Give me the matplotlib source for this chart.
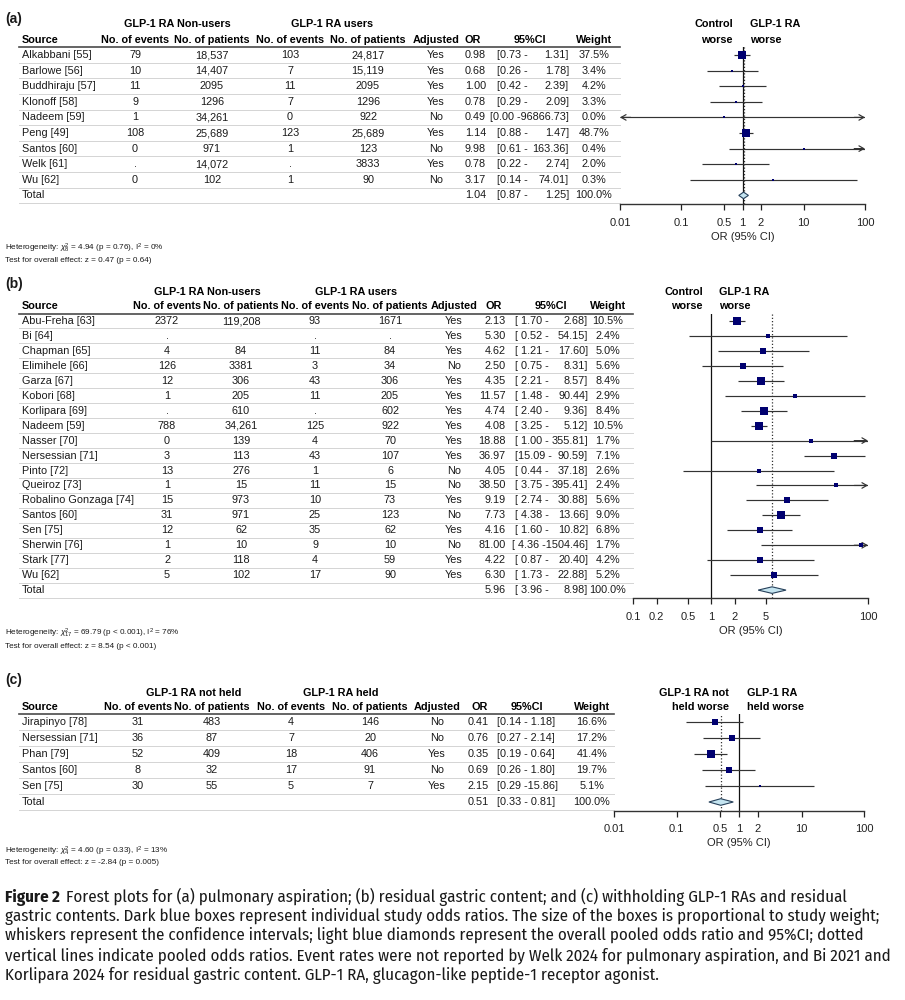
import matplotlib
matplotlib.use("Agg")
import os
import matplotlib.pyplot as plt
from matplotlib import font_manager
from matplotlib.font_manager import FontProperties
from matplotlib.patches import Polygon
import numpy as np

# ---------------- (a) pulmonary aspiration
a_source = ["Alkabbani [55]", "Barlowe [56]", "Buddhiraju [57]", "Klonoff [58]", "Nadeem [59]",
            "Peng [49]", "Santos [60]", "Welk [61]", "Wu [62]"]
a_ev_ctrl = ["79", "10", "11", "9", "1", "108", "0", ".", "0"]
a_n_ctrl = ["18,537", "14,407", "2095", "1296", "34,261", "25,689", "971", "14,072", "102"]
a_ev_glp = ["103", "7", "11", "7", "0", "123", "1", ".", "1"]
a_n_glp = ["24,817", "15,119", "2095", "1296", "922", "25,689", "123", "3833", "90"]
a_adj = ["Yes", "Yes", "Yes", "Yes", "No", "Yes", "No", "Yes", "No"]
a_or = [0.98, 0.68, 1.00, 0.78, 0.49, 1.14, 9.98, 0.78, 3.17]
a_lo = [0.73, 0.26, 0.42, 0.29, 0.00, 0.88, 0.61, 0.22, 0.14]
a_hi = [1.31, 1.78, 2.39, 2.09, 96866.73, 1.47, 163.36, 2.74, 74.01]
a_w = [37.5, 3.4, 4.2, 3.3, 0.0, 48.7, 0.4, 2.0, 0.3]
a_total = [1.04, 0.87, 1.25]
a_groups = ["GLP-1 RA Non-users", "GLP-1 RA users"]
a_sides = [["Control", "worse"], ["GLP-1 RA", "worse"]]
a_ticks = [0.01, 0.1, 0.5, 1, 2, 10, 100]
a_het = r"Heterogeneity: $\chi^2_{8}$ = 4.94 (p = 0.76), I$^2$ = 0%"
a_test = "Test for overall effect: z = 0.47 (p = 0.64)"

# ---------------- (b) residual gastric content
b_source = ["Abu-Freha [63]", "Bi [64]", "Chapman [65]", "Elimihele [66]", "Garza [67]", "Kobori [68]",
            "Korlipara [69]", "Nadeem [59]", "Nasser [70]", "Nersessian [71]", "Pinto [72]",
            "Queiroz [73]", "Robalino Gonzaga [74]", "Santos [60]", "Sen [75]", "Sherwin [76]",
            "Stark [77]", "Wu [62]"]
b_ev_ctrl = ["2372", ".", "4", "126", "12", "1", ".", "788", "0", "3", "13", "1", "15", "31", "12", "1", "2", "5"]
b_n_ctrl = ["119,208", "", "84", "3381", "306", "205", "610", "34,261", "139", "113", "276", "15", "973",
            "971", "62", "10", "118", "102"]
b_ev_glp = ["93", ".", "11", "3", "43", "11", ".", "125", "4", "43", "1", "11", "10", "25", "35", "9", "4", "17"]
b_n_glp = ["1671", ".", "84", "34", "306", "205", "602", "922", "70", "107", "6", "15", "73", "123", "62",
           "10", "59", "90"]
b_adj = ["Yes", "Yes", "Yes", "No", "Yes", "Yes", "Yes", "Yes", "Yes", "Yes", "No", "No", "Yes", "No",
         "Yes", "No", "Yes", "Yes"]
b_or = [2.13, 5.30, 4.62, 2.50, 4.35, 11.57, 4.74, 4.08, 18.88, 36.97, 4.05, 38.50, 9.19, 7.73, 4.16,
        81.00, 4.22, 6.30]
b_lo = [1.70, 0.52, 1.21, 0.75, 2.21, 1.48, 2.40, 3.25, 1.00, 15.09, 0.44, 3.75, 2.74, 4.38, 1.60,
        4.36, 0.87, 1.73]
b_hi = [2.68, 54.15, 17.60, 8.31, 8.57, 90.44, 9.36, 5.12, 355.81, 90.59, 37.18, 395.41, 30.88, 13.66,
        10.82, 1504.46, 20.40, 22.88]
b_w = [10.5, 2.4, 5.0, 5.6, 8.4, 2.9, 8.4, 10.5, 1.7, 7.1, 2.6, 2.4, 5.6, 9.0, 6.8, 1.7, 4.2, 5.2]
b_total = [5.96, 3.96, 8.98]
b_groups = ["GLP-1 RA Non-users", "GLP-1 RA users"]
b_sides = [["Control", "worse"], ["GLP-1 RA", "worse"]]
b_ticks = [0.1, 0.2, 0.5, 1, 2, 5, 100]
b_het = r"Heterogeneity: $\chi^2_{17}$ = 69.79 (p < 0.001), I$^2$ = 76%"
b_test = "Test for overall effect: z = 8.54 (p < 0.001)"

# ---------------- (c) withholding GLP-1 RA
c_source = ["Jirapinyo [78]", "Nersessian [71]", "Phan [79]", "Santos [60]", "Sen [75]"]
c_ev_ctrl = ["31", "36", "52", "8", "30"]
c_n_ctrl = ["483", "87", "409", "32", "55"]
c_ev_glp = ["4", "7", "18", "17", "5"]
c_n_glp = ["146", "20", "406", "91", "7"]
c_adj = ["No", "No", "Yes", "No", "Yes"]
c_or = [0.41, 0.76, 0.35, 0.69, 2.15]
c_lo = [0.14, 0.27, 0.19, 0.26, 0.29]
c_hi = [1.18, 2.14, 0.64, 1.80, 15.86]
c_w = [16.6, 17.2, 41.4, 19.7, 5.1]
c_total = [0.51, 0.33, 0.81]
c_groups = ["GLP-1 RA not held", "GLP-1 RA held"]
c_sides = [["GLP-1 RA not", "held worse"], ["GLP-1 RA", "held worse"]]
c_ticks = [0.01, 0.1, 0.5, 1, 2, 10, 100]
c_het = r"Heterogeneity: $\chi^2_{4}$ = 4.60 (p = 0.33), I$^2$ = 13%"
c_test = "Test for overall effect: z = -2.84 (p = 0.005)"

caption = [
    "Forest plots for (a) pulmonary aspiration; (b) residual gastric content; and (c) withholding GLP-1 RAs and residual",
    "gastric contents. Dark blue boxes represent individual study odds ratios. The size of the boxes is proportional to study weight;",
    "whiskers represent the confidence intervals; light blue diamonds represent the overall pooled odds ratio and 95%CI; dotted",
    "vertical lines indicate pooled odds ratios. Event rates were not reported by Welk 2024 for pulmonary aspiration, and Bi 2021 and",
    "Korlipara 2024 for residual gastric content. GLP-1 RA, glucagon-like peptide-1 receptor agonist.",
]

names = {f.name for f in font_manager.fontManager.ttflist}
SANS = "Liberation Sans" if "Liberation Sans" in names else "DejaVu Sans"


def wnum(w):
    if isinstance(w, str):
        return int(w) if w.isdigit() else font_manager.weight_dict.get(w, 400)
    return int(w)


def static_face(name, weight):
    for f in font_manager.fontManager.ttflist:
        fn = os.path.basename(f.fname)
        if f.name == name and f.style == "normal" and wnum(f.weight) == weight and "[" not in fn:
            return f.fname
    return None


# caption face: condensed humanist sans, static regular + bold files only
CAP_R, CAP_B = None, None
for nm in ["Fira Sans Condensed", "Fira Sans", "Asap Condensed", "PT Sans Narrow", "Lato"]:
    fr, fb = static_face(nm, 400), static_face(nm, 700)
    if fr and fb:
        CAP_R, CAP_B = FontProperties(fname=fr), FontProperties(fname=fb)
        break
if CAP_R is None:
    CAP_R = FontProperties(family=SANS)
    CAP_B = FontProperties(family=SANS, weight="bold")

plt.rcParams["font.family"] = [SANS, "DejaVu Sans"]
plt.rcParams["mathtext.fontset"] = "custom"
plt.rcParams["mathtext.rm"] = SANS
plt.rcParams["mathtext.it"] = SANS + ":italic"

NAVY = "#000070"
INK = "#1a1a1a"
FS = 7.8

fig = plt.figure(figsize=(9.05, 10), dpi=100)
ax = fig.add_axes([0, 0, 1, 1])
ax.set_xlim(0, 905)
ax.set_ylim(1000, 0)
ax.axis("off")


def ci_text(kind, lo, hi):
    if kind == "c":
        return ["[%.2f -%5.2f]" % (lo, hi)]
    left = "[%5.2f -" % lo if kind == "b" else "[%.2f -" % lo
    if hi >= 1000:
        return [None, left[:-1] + "-%.2f]" % hi]
    return [left, "%.2f]" % hi]


def panel(kind, lay, src, ev1, n1, ev2, n2, adj, ors, los, his, ws, tot, groups, sides, ticks, het, test):
    n = len(src)
    ys = [lay["y0"] + i * lay["step"] for i in range(n)]
    ty = lay["y0"] + n * lay["step"]
    top = lay["y0"] - lay["step"] / 2
    bot = ty + lay["step"] / 2
    x0 = 19
    fx0, fx1 = lay["fx"]

    ax.text(5, lay["lab_y"], "(%s)" % kind, fontsize=10, fontweight="bold", va="center", color=INK)
    ax.text(lay["grp"][0], lay["grp_y"], groups[0], fontsize=FS, fontweight="bold", ha="center", va="center")
    ax.text(lay["grp"][1], lay["grp_y"], groups[1], fontsize=FS, fontweight="bold", ha="center", va="center")
    heads = ["No. of events", "No. of patients", "No. of events", "No. of patients", "Adjusted"]
    for h, cx in zip(heads, lay["cols"]):
        ax.text(cx, lay["head_y"], h, fontsize=FS, fontweight="bold", ha="center", va="center")
    ax.text(lay["src"], lay["head_y"], "Source", fontsize=FS, fontweight="bold", va="center")
    ax.text(lay["or_h"], lay["head_y"], "OR", fontsize=FS, fontweight="bold", ha="center", va="center")
    ax.text(lay["ci_h"], lay["head_y"], "95%CI", fontsize=FS, fontweight="bold", ha="center", va="center")
    ax.text(lay["wt"], lay["head_y"], "Weight", fontsize=FS, fontweight="bold", ha="center", va="center")

    # table lines
    ax.plot([x0, fx0], [top, top], color="#4a4a4a", lw=1.2)
    for i in range(n + 1):
        yl = ys[0] + (i + 0.5) * lay["step"]
        ax.plot([x0, fx0], [yl, yl], color="#d4d4d4", lw=0.7)

    def ci_draw(y, lo, hi):
        parts = ci_text(kind, lo, hi)
        if len(parts) == 1:
            ax.text(lay["ci_l"], y, parts[0], fontsize=FS, va="center", color=INK)
        elif parts[0] is None:
            ax.text(lay["ci_r"], y, parts[1], fontsize=FS, ha="right", va="center", color=INK)
        else:
            ax.text(lay["ci_l"], y, parts[0], fontsize=FS, va="center", color=INK)
            ax.text(lay["ci_r"], y, parts[1], fontsize=FS, ha="right", va="center", color=INK)

    for i in range(n):
        y = ys[i]
        ax.text(lay["src"], y, src[i], fontsize=FS, va="center", color=INK)
        for v, cx in zip([ev1[i], n1[i], ev2[i], n2[i], adj[i]], lay["cols"]):
            ax.text(cx, y, v, fontsize=FS, ha="center", va="center", color=INK)
        ax.text(lay["or_r"], y, "%.2f" % ors[i], fontsize=FS, ha="right", va="center", color=INK)
        ci_draw(y, los[i], his[i])
        ax.text(lay["wt"], y, "%.1f%%" % ws[i], fontsize=FS, ha="center", va="center", color=INK)
    ax.text(lay["src"], ty, "Total", fontsize=FS, va="center", color=INK)
    ax.text(lay["or_r"], ty, "%.2f" % tot[0], fontsize=FS, ha="right", va="center", color=INK)
    ci_draw(ty, tot[1], tot[2])
    ax.text(lay["wt"], ty, "100.0%", fontsize=FS, ha="center", va="center", color=INK)

    ax.text(5, lay["het_y"], het, fontsize=5.9, va="center", color=INK)
    ax.text(5, lay["test_y"], test, fontsize=5.9, va="center", color=INK)

    # forest part
    ay = bot + 0.5
    fax = fig.add_axes([fx0 / 905, 1 - ay / 1000, (fx1 - fx0) / 905, (ay - top) / 1000])
    fax.set_xscale("log")
    xmin, xmax = ticks[0], ticks[-1]
    fax.set_xlim(xmin, xmax)
    fax.set_ylim(ay, top)
    fax.patch.set_alpha(0)
    for s in ["top", "right", "left"]:
        fax.spines[s].set_visible(False)
    fax.spines["bottom"].set_color("#333333")
    fax.spines["bottom"].set_linewidth(1.0)
    fax.set_yticks([])
    fax.set_xticks(ticks)
    fax.set_xticklabels([("%g" % t) for t in ticks])
    fax.xaxis.set_minor_locator(plt.NullLocator())
    fax.tick_params(axis="x", direction="out", length=4, width=0.9, pad=6, labelsize=8, colors="#222222")

    fax.axvline(1, color="#111111", lw=0.9, zorder=1)
    fax.axvline(tot[0], color="#333333", lw=0.9, ls=(0, (1, 1.6)), zorder=1)

    wmax = max(ws)
    lc = "#333333"
    for o, lo, hi, w, y in zip(ors, los, his, ws, ys):
        l2, h2 = max(lo, xmin), min(hi, xmax)
        fax.plot([l2, h2], [y, y], color=lc, lw=0.85, zorder=2, solid_capstyle="butt")
        if hi > xmax:
            fax.annotate("", xy=(xmax, y), xytext=(xmax / 1.5, y),
                         arrowprops=dict(arrowstyle="->,head_length=0.35,head_width=0.2", lw=0.85,
                                         color=lc, shrinkA=0, shrinkB=0), annotation_clip=False)
        if lo < xmin:
            fax.annotate("", xy=(xmin, y), xytext=(xmin * 1.5, y),
                         arrowprops=dict(arrowstyle="->,head_length=0.35,head_width=0.2", lw=0.85,
                                         color=lc, shrinkA=0, shrinkB=0), annotation_clip=False)
        side = max(2.6, 8.0 * np.sqrt(w / wmax)) * 0.72
        fax.scatter([o], [y], marker="s", s=side ** 2, color=NAVY, linewidths=0, zorder=3, clip_on=False)
    dia = Polygon([(tot[1], ty), (tot[0], ty - 3.3), (tot[2], ty), (tot[0], ty + 3.3)], closed=True,
                  facecolor="#c4e4f0", edgecolor="#26405a", lw=0.8, zorder=4)
    fax.add_patch(dia)

    ax.text((fx0 + fx1) / 2, ay + 33, "OR (95% CI)", fontsize=8, ha="center", va="center", color="#222222")
    ax.text(lay["side"][0], lay["grp_y"], sides[0][0], fontsize=FS, fontweight="bold", ha="right", va="center")
    ax.text(lay["side"][0], lay["head_y"], sides[0][1], fontsize=FS, fontweight="bold", ha="right", va="center")
    ax.text(lay["side"][1], lay["grp_y"], sides[1][0], fontsize=FS, fontweight="bold", ha="left", va="center")
    ax.text(lay["side"][1], lay["head_y"], sides[1][1], fontsize=FS, fontweight="bold", ha="left", va="center")


lay_a = dict(y0=55, step=15.6, lab_y=19, grp_y=24, head_y=40, het_y=248, test_y=260, src=22,
             cols=[135, 212, 290, 368, 436], or_r=486, or_h=473, ci_l=497, ci_r=569, ci_h=530, wt=594,
             grp=[177, 332], fx=(620, 865), side=(733, 750))
lay_b = dict(y0=321, step=14.95, lab_y=284, grp_y=292, head_y=306, het_y=633, test_y=647, src=22,
             cols=[167, 241, 315, 390, 454], or_r=506, or_h=494, ci_l=515, ci_r=588, ci_h=551, wt=608,
             grp=[207, 356], fx=(633, 868), side=(703, 719))
lay_c = dict(y0=722, step=16, lab_y=680, grp_y=693, head_y=707, het_y=851, test_y=862, src=22,
             cols=[138, 212, 291, 370, 437], or_r=489, or_h=480, ci_l=497, ci_r=None, ci_h=527, wt=592,
             grp=[194, 341], fx=(614, 864), side=(729, 747))

panel("a", lay_a, a_source, a_ev_ctrl, a_n_ctrl, a_ev_glp, a_n_glp, a_adj, a_or, a_lo, a_hi, a_w,
      a_total, a_groups, a_sides, a_ticks, a_het, a_test)
panel("b", lay_b, b_source, b_ev_ctrl, b_n_ctrl, b_ev_glp, b_n_glp, b_adj, b_or, b_lo, b_hi, b_w,
      b_total, b_groups, b_sides, b_ticks, b_het, b_test)
panel("c", lay_c, c_source, c_ev_ctrl, c_n_ctrl, c_ev_glp, c_n_glp, c_adj, c_or, c_lo, c_hi, c_w,
      c_total, c_groups, c_sides, c_ticks, c_het, c_test)

# caption: size fitted so the longest line spans the same width as in the figure
r = fig.canvas.get_renderer()
probe = ax.text(0, 0, caption[1], fontproperties=CAP_R, fontsize=10)
wpx = probe.get_window_extent(r).width
probe.remove()
cfs = 10 * 872 / wpx
cy = [895, 914.5, 934, 953.5, 973]
head = ax.text(5, cy[0], "Figure 2", fontproperties=CAP_B, fontsize=cfs, va="center_baseline", color="#1a1a1a")
hw = head.get_window_extent(r).width
ax.text(5 + hw + 6, cy[0], caption[0], fontproperties=CAP_R, fontsize=cfs, va="center_baseline", color="#1a1a1a")
for line, y in zip(caption[1:], cy[1:]):
    ax.text(5, y, line, fontproperties=CAP_R, fontsize=cfs, va="center_baseline", color="#1a1a1a")

fig.savefig("out.png", dpi=100)
